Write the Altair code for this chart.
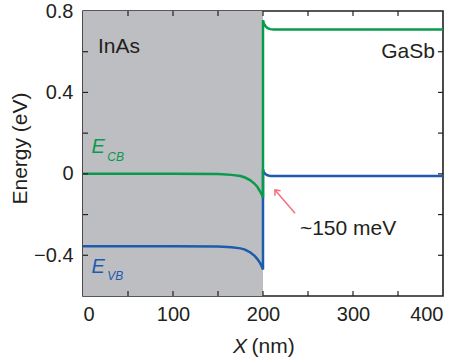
import altair as alt
import pandas as pd

# Band-edge profiles across the InAs / GaSb heterointerface
cb_x = [0, 100, 150, 165, 175, 180, 186, 191, 194, 197, 199, 200,
        200, 201, 203, 205, 208, 212, 220, 400]
cb_y = [0.0, 0.0, -0.001, -0.005, -0.011, -0.018, -0.032, -0.05, -0.066, -0.088, -0.105, -0.117,
        0.755, 0.738, 0.724, 0.716, 0.711, 0.709, 0.709, 0.709]

vb_x = [0, 100, 150, 165, 175, 180, 186, 191, 194, 197, 199, 200,
        200, 201, 203, 205, 208, 212, 220, 400]
vb_y = [-0.356, -0.356, -0.357, -0.361, -0.366, -0.372, -0.386, -0.404, -0.42, -0.44, -0.458, -0.47,
        0.022, 0.008, -0.002, -0.007, -0.01, -0.011, -0.011, -0.011]

interface_nm = 200
x_labels = [0, 100, 200, 300, 400]
y_labels = [-0.4, 0, 0.4, 0.8]
x_ticks = [50, 100, 150, 200, 250, 300, 350]
y_ticks = [-0.4, -0.2, 0, 0.2, 0.4, 0.6]

W, H = 360, 285
GREEN = "#0A9A4C"
BLUE = "#1F5BAD"
ARROW = "#F2707C"
GRAY = "#BDBEC1"
FONT = "Liberation Sans"

xs = alt.Scale(domain=[0, 400], nice=False, zero=False)
ys = alt.Scale(domain=[-0.6, 0.8], nice=False, zero=False)

bands = pd.DataFrame(
    [{"x": x, "y": y, "i": i, "band": "CB"} for i, (x, y) in enumerate(zip(cb_x, cb_y))]
    + [{"x": x, "y": y, "i": i, "band": "VB"} for i, (x, y) in enumerate(zip(vb_x, vb_y))]
)

xaxis = alt.Axis(values=x_labels, ticks=False, domain=False, grid=False, title=None,
                 labelFont=FONT, labelFontSize=20, labelColor="#231F20", labelPadding=8)
yaxis = alt.Axis(values=y_labels, ticks=False, domain=False, grid=False,
                 title="Energy (eV)", titleFont=FONT, titleFontSize=21, titleFontWeight="normal",
                 titleColor="#231F20", titleX=-63, titleY=137, titleAlign="center",
                 titleBaseline="middle", titleAngle=270,
                 labelFont=FONT, labelFontSize=20, labelColor="#231F20", labelPadding=10,
                 labelExpr="datum.value == 0 ? '0' : replace(format(datum.value, '.1f'), '-', '\u2212')")

# InAs region shading
shade = alt.Chart(pd.DataFrame({"x0": [0], "x1": [interface_nm]})).mark_rect(color=GRAY).encode(
    x=alt.X("x0:Q", scale=xs, axis=xaxis),
    x2="x1:Q",
    y=alt.value(0), y2=alt.value(H),
)

vb_line = alt.Chart(bands[bands.band == "VB"]).mark_line(color=BLUE, strokeWidth=2.5).encode(
    x=alt.X("x:Q", scale=xs), y=alt.Y("y:Q", scale=ys, axis=yaxis), order="i:Q")
cb_line = alt.Chart(bands[bands.band == "CB"]).mark_line(color=GREEN, strokeWidth=2.5).encode(
    x=alt.X("x:Q", scale=xs), y=alt.Y("y:Q", scale=ys), order="i:Q")

# Arrow marking the band overlap
arrow_tail = (235.6, -0.194)
arrow_head = (213.3, -0.079)
arrow_df = pd.DataFrame({"x": [arrow_tail[0]], "y": [arrow_tail[1]],
                         "x2": [arrow_head[0]], "y2": [arrow_head[1]]})
arrow_shaft = alt.Chart(arrow_df).mark_rule(color=ARROW, strokeWidth=1.5).encode(
    x=alt.X("x:Q", scale=xs), y=alt.Y("y:Q", scale=ys), x2="x2:Q", y2="y2:Q")
arrow_tip = alt.Chart(arrow_df).mark_point(
    shape="M -0.8 0.9 L 0 0 L 0.8 0.9", filled=False, color=ARROW, strokeWidth=1.5,
    size=90, angle=319, opacity=1).encode(
    x=alt.X("x2:Q", scale=xs), y=alt.Y("y2:Q", scale=ys))

def label(text, x, y, color="#231F20", size=21, align="left", style="normal"):
    return alt.Chart(pd.DataFrame({"x": [x], "y": [y], "t": [text]})).mark_text(
        font=FONT, fontSize=size, color=color, align=align, baseline="alphabetic",
        fontStyle=style).encode(
        x=alt.X("x:Q", scale=xs), y=alt.Y("y:Q", scale=ys), text="t:N")

texts = [
    label("InAs", 16.7, 0.594),
    label("GaSb", 391, 0.568, align="right"),
    label("~150 meV", 241, -0.30),
    label("E", 9.5, 0.101, GREEN, 20, style="italic"),
    label("CB", 27, 0.063, GREEN, 12, style="italic"),
    label("E", 9.5, -0.488, BLUE, 20, style="italic"),
    label("VB", 27, -0.521, BLUE, 12, style="italic"),
]

# x-axis title with italic variable name
xtitle_x = alt.Chart(pd.DataFrame({"t": ["X"]})).mark_text(
    font=FONT, fontSize=21, fontStyle="italic", color="#231F20", align="left",
    baseline="alphabetic").encode(x=alt.value(150), y=alt.value(342), text="t:N")
xtitle_u = alt.Chart(pd.DataFrame({"t": ["(nm)"]})).mark_text(
    font=FONT, fontSize=21, color="#231F20", align="left",
    baseline="alphabetic").encode(x=alt.value(168.5), y=alt.value(342), text="t:N")

# Inward ticks on all four sides
TL = 5
xt = pd.DataFrame({"v": x_ticks})
yt = pd.DataFrame({"v": y_ticks})
tick_style = dict(color="#231F20", strokeWidth=1.2)
ticks = [
    alt.Chart(xt).mark_rule(**tick_style).encode(x=alt.X("v:Q", scale=xs), y=alt.value(H), y2=alt.value(H - TL)),
    alt.Chart(xt).mark_rule(**tick_style).encode(x=alt.X("v:Q", scale=xs), y=alt.value(0), y2=alt.value(TL)),
    alt.Chart(yt).mark_rule(**tick_style).encode(y=alt.Y("v:Q", scale=ys), x=alt.value(0), x2=alt.value(TL)),
    alt.Chart(yt).mark_rule(**tick_style).encode(y=alt.Y("v:Q", scale=ys), x=alt.value(W), x2=alt.value(W - TL)),
]

chart = alt.layer(
    shade, vb_line, cb_line, arrow_shaft, arrow_tip, *texts, xtitle_x, xtitle_u, *ticks
).properties(
    width=W, height=H,
    autosize=alt.AutoSizeParams(type="none"),
    padding={"left": 83, "top": 11, "right": 11, "bottom": 67},
    background="white",
).configure_view(stroke="#231F20", strokeWidth=1.6)

chart.save("out.html", embed_options={"renderer": "svg", "actions": False})
